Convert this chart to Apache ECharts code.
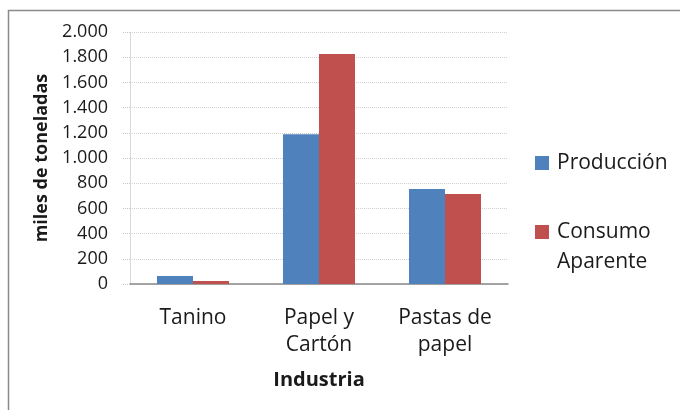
<!DOCTYPE html>
<html lang="es">
<head>
    <meta charset="UTF-8">
    <title>Industria</title>
    <style>
        html, body { margin: 0; padding: 0; background: #fff; }
        #chart { width: 680px; height: 410px; }
    </style>
</head>
<body>
    <div id="chart"></div>
    <script src="https://cdn.jsdelivr.net/npm/echarts@6/dist/echarts.min.js"></script>
    <script>
        // datos (miles de toneladas)
        var categorias = ['Tanino', 'Papel y\nCartón', 'Pastas de\npapel'];
        var produccion = [63, 1188, 754];
        var consumo = [24, 1825, 714];

        var fuente = 'Open Sans';
        var mChart = echarts.init(document.getElementById('chart'));

        var option = {
            animation: false,
            textStyle: { fontFamily: fuente },
            // marco: solo se ven el borde izquierdo y el superior
            graphic: [{
                type: 'polyline',
                shape: { points: [[8.5, 420], [8.5, 10.5], [690, 10.5]] },
                style: { fill: 'none', stroke: '#8a8a8a', lineWidth: 1.5 }
            }],
            grid: { left: 130, right: 172, top: 32, bottom: 126 },
            legend: {
                orient: 'vertical',
                left: 535,
                top: 148,
                padding: 0,
                itemGap: 9,
                itemWidth: 14,
                itemHeight: 14,
                icon: 'rect',
                textStyle: { fontFamily: fuente, fontSize: 21, color: '#1a1a1a', lineHeight: 30, padding: [0, 0, 0, 3] },
                // linea vacia arriba para que el cuadro quede junto a "Consumo"
                formatter: function (name) {
                    return name === 'Consumo Aparente' ? ' \nConsumo\nAparente' : name;
                },
                data: ['Producción', 'Consumo Aparente']
            },
            xAxis: {
                type: 'category',
                data: categorias,
                name: 'Industria',
                nameLocation: 'middle',
                nameGap: 86,
                nameTextStyle: { fontFamily: fuente, fontSize: 20, fontWeight: 'bold', color: '#1a1a1a' },
                axisLine: { lineStyle: { color: '#888', width: 1.5 } },
                axisTick: { show: false },
                axisLabel: { fontFamily: fuente, fontSize: 21, color: '#1a1a1a', lineHeight: 27, margin: 21 }
            },
            yAxis: {
                type: 'value',
                min: 0,
                max: 2000,
                interval: 200,
                name: 'miles de toneladas',
                nameLocation: 'middle',
                nameGap: 76,
                nameTextStyle: { fontFamily: fuente, fontSize: 18, fontWeight: 'bold', color: '#1a1a1a' },
                axisLine: { show: true, lineStyle: { color: '#d0d0d0', type: 'dotted' } },
                axisTick: { show: true, length: 7, lineStyle: { color: '#c8c8c8', type: 'dotted' } },
                splitLine: { lineStyle: { color: '#d0d0d0', type: 'dotted' } },
                axisLabel: {
                    fontFamily: fuente, fontSize: 18, color: '#1a1a1a', margin: 22,
                    formatter: function (v) {
                        return String(v).replace(/\B(?=(\d{3})+(?!\d))/g, '.');
                    }
                }
            },
            series: [
                {
                    name: 'Producción',
                    type: 'bar',
                    data: produccion,
                    barWidth: 36,
                    barGap: '0%',
                    itemStyle: { color: '#4f81bd' }
                },
                {
                    name: 'Consumo Aparente',
                    type: 'bar',
                    data: consumo,
                    barWidth: 36,
                    barGap: '0%',
                    itemStyle: { color: '#c0504d' }
                }
            ]
        };

        mChart.setOption(option);
    </script>
</body>
</html>
